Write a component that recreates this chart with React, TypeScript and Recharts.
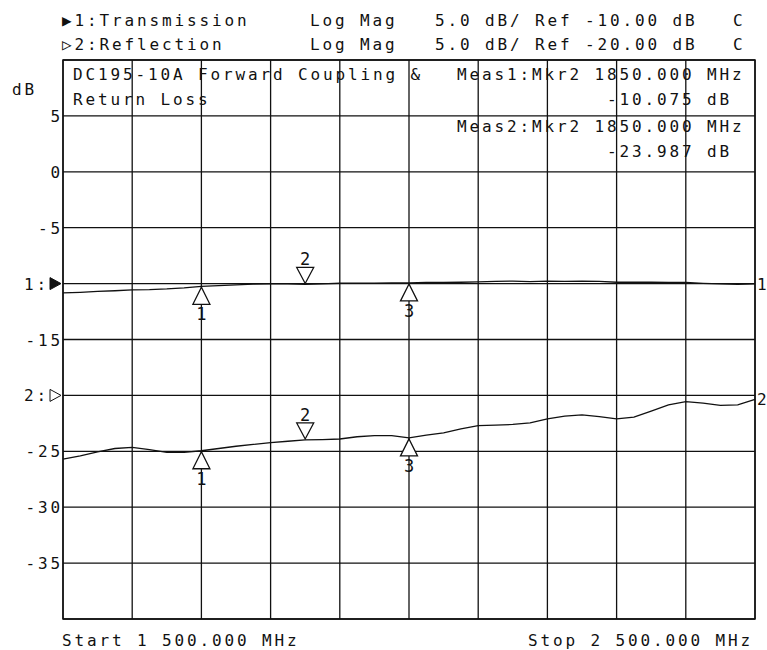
import { LineChart, Line, XAxis, YAxis, CartesianGrid, ReferenceDot, ReferenceArea } from 'recharts';

const FREQS = [
  1500, 1525, 1550, 1575, 1600, 1625, 1650, 1675, 1700, 1725, 1750, 1775, 1800, 1825,
  1850, 1875, 1900, 1925, 1950, 1975, 2000, 2025, 2050, 2075, 2100, 2125, 2150, 2175,
  2200, 2225, 2250, 2275, 2300, 2325, 2350, 2375, 2400, 2425, 2450, 2475, 2500,
];

// trace 1: Transmission (forward coupling)
const TRANSMISSION = [
  -10.83, -10.78, -10.7, -10.64, -10.56, -10.54, -10.48, -10.38, -10.24, -10.18, -10.12, -10.05, -10.02, -10.03,
  -10.075, -10.02, -9.97, -9.95, -9.95, -9.94, -9.94, -9.9, -9.9, -9.88, -9.85, -9.8, -9.78, -9.82,
  -9.78, -9.8, -9.78, -9.8, -9.88, -9.88, -9.88, -9.9, -9.9, -9.98, -10.03, -10.06, -10.03,
];

// trace 2: Reflection (return loss)
const REFLECTION = [
  -25.7, -25.4, -25.05, -24.75, -24.65, -24.85, -25.1, -25.1, -24.95, -24.75, -24.55, -24.38, -24.22, -24.1,
  -23.987, -23.95, -23.9, -23.7, -23.6, -23.6, -23.8, -23.55, -23.35, -23.0, -22.7, -22.65, -22.6, -22.45,
  -22.1, -21.85, -21.75, -21.9, -22.1, -21.95, -21.4, -20.85, -20.55, -20.7, -20.9, -20.85, -20.35,
];

const FREQ_TICKS = [1500, 1600, 1700, 1800, 1900, 2000, 2100, 2200, 2300, 2400, 2500];
const DB_TICKS = [10, 5, 0, -5, -10, -15, -20, -25, -30, -35, -40];
const DB_TICK_LABELS = ['', '5', '0', '-5', '1:', '-15', '2:', '-25', '-30', '-35', ''];

const MARKER_FREQS = [1700, 1850, 2000];
const MARKER_NAMES = ['1', '2', '3'];

const data = FREQS.map((f, i) => ({ f, t1: TRANSMISSION[i], t2: REFLECTION[i] }));

const FONT = "'DejaVu Sans Mono', monospace";
const INK = '#111';
const textStyle = { fontFamily: FONT, fontSize: 16, letterSpacing: 2.87, fill: INK };

function DbTick({ x, y, payload }: any) {
  const label = DB_TICK_LABELS[DB_TICKS.indexOf(payload.value)] || '';
  if (!label) return <g />;
  if (label === '1:' || label === '2:') {
    return (
      <g>
        <text x={x - 10} y={y + 6} textAnchor="end" style={textStyle}>{label}</text>
        <polygon
          points={`${x - 9},${y - 6} ${x + 2},${y} ${x - 9},${y + 6}`}
          fill={label === '1:' ? INK : '#fff'}
          stroke={INK}
          strokeWidth={1}
        />
      </g>
    );
  }
  return <text x={x + 4} y={y + 6} textAnchor="end" style={textStyle}>{label}</text>;
}

// marker triangle: "up" sits below the trace, "down" sits above it
function markerShape(name: string) {
  const down = name === '2';
  return (props: any) => {
    const { cx, cy } = props;
    if (down) {
      return (
        <g>
          <polygon points={`${cx - 8.5},${cy - 17} ${cx + 8.5},${cy - 17} ${cx},${cy - 1}`} fill="#fff" stroke={INK} strokeWidth={1.3} />
          <text x={cx} y={cy - 19} textAnchor="middle" style={{ fontFamily: FONT, fontSize: 17, fill: INK }}>{name}</text>
        </g>
      );
    }
    return (
      <g>
        <polygon points={`${cx},${cy + 1} ${cx - 8.5},${cy + 18} ${cx + 8.5},${cy + 18}`} fill="#fff" stroke={INK} strokeWidth={1.3} />
        <text x={cx} y={cy + 34} textAnchor="middle" style={{ fontFamily: FONT, fontSize: 17, fill: INK }}>{name}</text>
      </g>
    );
  };
}

function endLabel(name: string) {
  return (props: any) => (
    <text x={props.cx + 2} y={props.cy + 6} style={{ fontFamily: FONT, fontSize: 16, fill: INK }}>{name}</text>
  );
}

export default function App() {
  const last = FREQS.length - 1;
  return (
    <div style={{ position: 'absolute', left: 0, top: 0, width: 767, height: 650, background: '#fff' }}>
      <LineChart width={767} height={650} data={data} margin={{ top: 60, right: 12, bottom: 0, left: 0 }}>
        <CartesianGrid stroke={INK} strokeWidth={1.3} />
        <XAxis
          type="number"
          dataKey="f"
          domain={[1500, 2500]}
          ticks={FREQ_TICKS}
          interval={0}
          height={31}
          tick={() => <g />}
          axisLine={false}
          tickLine={false}
        />
        <YAxis
          type="number"
          domain={[-40, 10]}
          ticks={DB_TICKS}
          width={63}
          axisLine={false}
          tickLine={false}
          tickSize={0}
          tickMargin={4}
          tick={<DbTick />}
          interval={0}
        />
        <ReferenceArea x1={1500} x2={2500} y1={-40} y2={10} fill="none" stroke={INK} strokeWidth={1.5} />
        <Line type="linear" dataKey="t1" stroke={INK} strokeWidth={1.3} dot={false} isAnimationActive={false} />
        <Line type="linear" dataKey="t2" stroke={INK} strokeWidth={1.3} dot={false} isAnimationActive={false} />
        {MARKER_FREQS.map((mf, i) => {
          const idx = FREQS.indexOf(mf);
          return [
            <ReferenceDot key={`m1-${i}`} x={mf} y={TRANSMISSION[idx]} ifOverflow="visible" shape={markerShape(MARKER_NAMES[i])} />,
            <ReferenceDot key={`m2-${i}`} x={mf} y={REFLECTION[idx]} ifOverflow="visible" shape={markerShape(MARKER_NAMES[i])} />,
          ];
        })}
        <ReferenceDot x={FREQS[last]} y={TRANSMISSION[last]} ifOverflow="visible" shape={endLabel('1')} />
        <ReferenceDot x={FREQS[last]} y={REFLECTION[last]} ifOverflow="visible" shape={endLabel('2')} />
      </LineChart>
      <svg width={767} height={650} style={{ position: 'absolute', left: 0, top: 0, pointerEvents: 'none' }}>
        <g style={textStyle}>
          <text x={62} y={26}>▶1:Transmission</text>
          <text x={310} y={26}>Log Mag</text>
          <text x={435} y={26}>5.0 dB/ Ref -10.00 dB</text>
          <text x={733} y={26}>C</text>
          <text x={62} y={50}>▷2:Reflection</text>
          <text x={310} y={50}>Log Mag</text>
          <text x={435} y={50}>5.0 dB/ Ref -20.00 dB</text>
          <text x={733} y={50}>C</text>
          <text x={12} y={95}>dB</text>
          <text x={73} y={80}>DC195-10A Forward Coupling &amp;</text>
          <text x={73} y={105}>Return Loss</text>
          <text x={457} y={80}>Meas1:Mkr2 1850.000 MHz</text>
          <text x={607} y={105}>-10.075 dB</text>
          <text x={457} y={132}>Meas2:Mkr2 1850.000 MHz</text>
          <text x={607} y={157}>-23.987 dB</text>
          <text x={62} y={646}>Start 1 500.000 MHz</text>
          <text x={528} y={646}>Stop 2 500.000 MHz</text>
        </g>
      </svg>
    </div>
  );
}
